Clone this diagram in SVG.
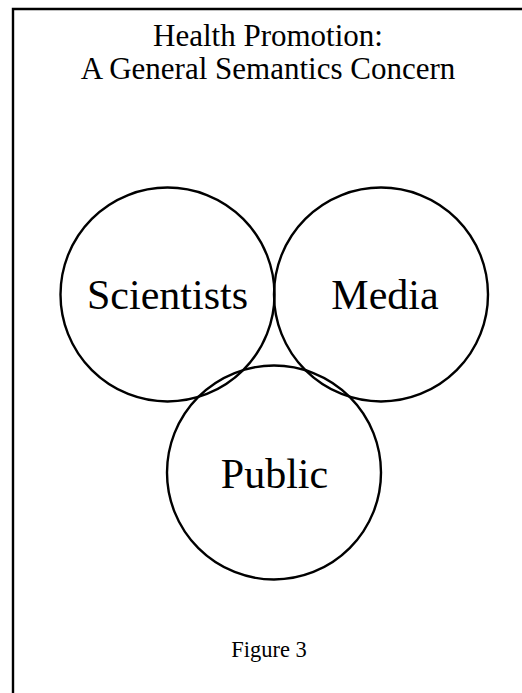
<svg xmlns="http://www.w3.org/2000/svg" width="522" height="693" viewBox="0 0 522 693">
  <style>
    .frame { fill: none; stroke: #000; stroke-width: 2.4; }
    .ring { fill: none; stroke: #000; stroke-width: 2.4; }
    .title { font-family: "Liberation Serif", "Times New Roman", serif; font-size: 31px; fill: #000; text-anchor: middle; }
    .label { font-family: "Liberation Serif", "Times New Roman", serif; font-size: 42px; fill: #000; text-anchor: middle; }
    .caption { font-family: "Liberation Serif", "Times New Roman", serif; font-size: 22.5px; fill: #000; text-anchor: middle; }
  </style>
  <rect width="522" height="693" fill="#fff"/>
  <!-- page frame: top and left rules only -->
  <path class="frame" d="M13 693 V9 H522"/>
  <g id="title">
    <text class="title" x="268" y="46">Health Promotion:</text>
    <text class="title" x="268" y="79">A General Semantics Concern</text>
  </g>
  <g id="scientists">
    <circle class="ring" cx="167.5" cy="294.5" r="107"/>
    <text class="label" x="167.5" y="309">Scientists</text>
  </g>
  <g id="media">
    <circle class="ring" cx="381" cy="294.5" r="107"/>
    <text class="label" x="385" y="309">Media</text>
  </g>
  <g id="public">
    <circle class="ring" cx="274" cy="472.5" r="107"/>
    <text class="label" x="274.5" y="488">Public</text>
  </g>
  <g id="connectors"></g>
  <text class="caption" x="269" y="657">Figure 3</text>
</svg>
